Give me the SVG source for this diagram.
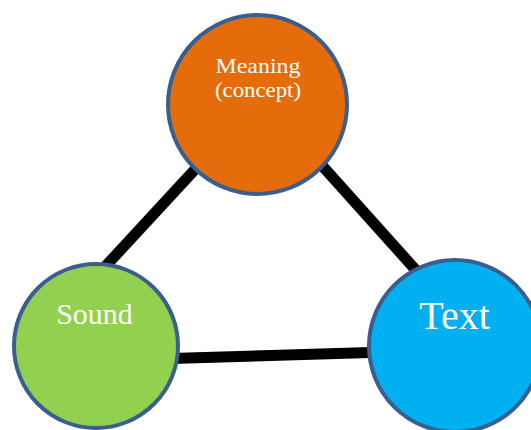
<svg xmlns="http://www.w3.org/2000/svg" width="531" height="430" viewBox="0 0 531 430">
  <style>
    .edge { stroke: #000000; stroke-width: 11; fill: none; }
    .node { stroke: #3A5F8F; stroke-width: 4; }
    .lbl { fill: #FFFFFF; font-family: "Liberation Serif", "DejaVu Serif", serif; text-anchor: middle; }
  </style>
  <rect width="531" height="430" fill="#FFFFFF"/>
  <g id="connectors">
    <line class="edge" x1="213" y1="150" x2="90" y2="283"/>
    <line class="edge" x1="300" y1="141" x2="440" y2="297"/>
    <line class="edge" x1="120" y1="360" x2="420" y2="351" stroke-width="12"/>
  </g>
  <g id="meaning">
    <circle class="node" cx="257.5" cy="104.5" r="89.5" fill="#E46C0A"/>
    <text class="lbl" x="258" y="73" font-size="21" textLength="85" lengthAdjust="spacingAndGlyphs">Meaning</text>
    <text class="lbl" x="258" y="97" font-size="21" textLength="86" lengthAdjust="spacingAndGlyphs">(concept)</text>
  </g>
  <g id="sound">
    <circle class="node" cx="96" cy="346" r="82" fill="#92D050"/>
    <text class="lbl" x="94.5" y="324" font-size="30">Sound</text>
  </g>
  <g id="text">
    <circle class="node" cx="455" cy="346" r="86" fill="#00B0F0"/>
    <text class="lbl" x="454.5" y="329" font-size="40">Text</text>
  </g>
</svg>
